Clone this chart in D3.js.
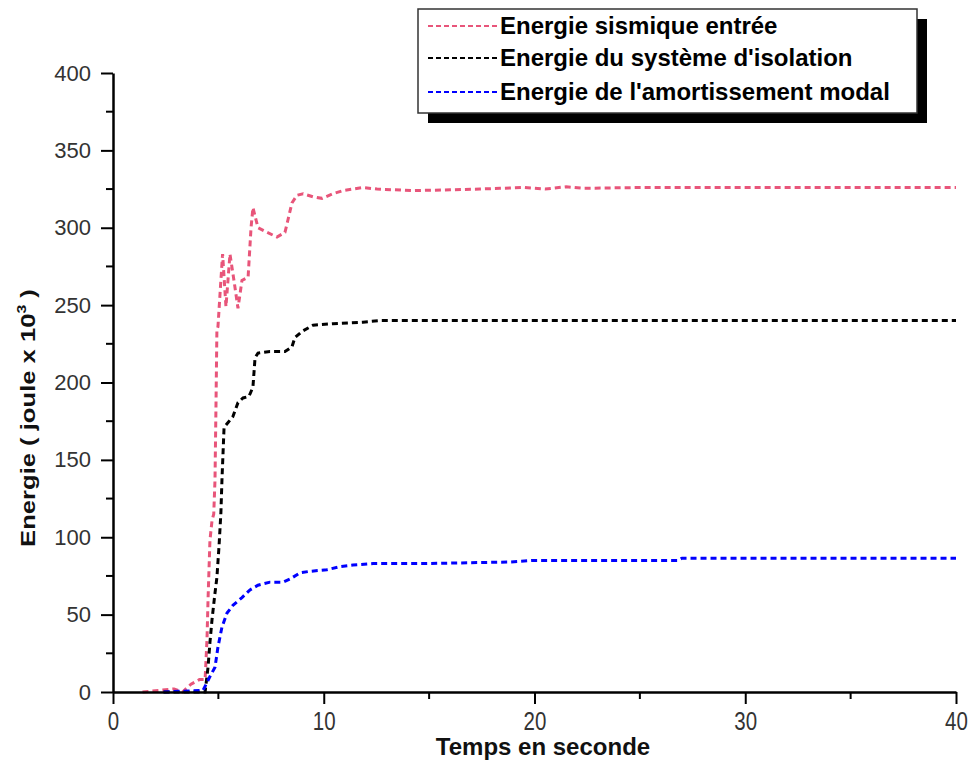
<!DOCTYPE html>
<html><head><meta charset="utf-8">
<script src="https://cdn.jsdelivr.net/npm/d3@7"></script>
<style>body{margin:0;background:#fff}svg{display:block}</style>
</head><body>
<svg id="c" width="975" height="762"></svg>
<script>
// ---- data (time in s, energy in joule x 10^3) ----
const seriesNames = ["Energie sismique entrée", "Energie du système d'isolation", "Energie de l'amortissement modal"];
const seriesColors = ["#e8557a", "#000000", "#0000ff"];
const xTicks = [0, 10, 20, 30, 40];
const yTicks = [0, 50, 100, 150, 200, 250, 300, 350, 400];

const pinkT = [1.4, 2.9, 3.3, 3.7, 4.1, 4.37, 4.46, 4.51, 4.6, 4.7, 4.78, 4.84, 4.89, 4.93, 4.98, 5.1, 5.2, 5.36, 5.55, 5.75, 5.93, 6.12, 6.41, 6.55, 6.64, 6.88, 7.31, 7.78, 8.16, 8.3, 8.49, 8.73, 9.02, 9.49, 9.92, 10.44, 10.91, 11.86, 12.53, 14.23, 16, 17.41, 18.36, 19.5, 20.5, 21.5, 22.3, 25, 30, 35, 40];
const pinkE = [0, 2, 0, 5, 8, 8, 34, 60, 98, 111, 115, 137, 189, 234, 236, 262, 283, 249, 283, 265, 248, 266, 268, 300, 313, 300, 297, 294, 297, 305, 316, 321, 322, 320, 319, 322, 324, 326, 325, 324, 324.5, 325, 325.5, 326, 325, 326.5, 325.5, 326, 326, 326, 326];

const blackT = [2.4, 4.37, 4.51, 4.6, 4.7, 4.84, 4.93, 5.03, 5.12, 5.17, 5.22, 5.27, 5.45, 5.69, 5.93, 6.17, 6.45, 6.64, 6.74, 6.88, 7.45, 8.16, 8.49, 8.63, 8.97, 9.49, 10.44, 11.86, 12.67, 15, 20, 25, 30, 35, 40];
const blackE = [0, 0, 16, 32, 47, 64, 74, 94, 116, 137, 154, 171, 174, 178, 187, 190, 191, 197, 216, 219, 220, 220, 223, 229, 233, 237, 238, 239, 240, 240, 240, 240, 240, 240, 240];

const blueT = [2.4, 4.27, 4.6, 4.84, 4.98, 5.17, 5.41, 5.69, 6.12, 6.5, 6.88, 7.45, 8.07, 8.4, 8.87, 9.35, 10.15, 10.77, 11.39, 12.34, 14.9, 18.8, 19.9, 26.8, 27.0, 40];
const blueE = [0, 1, 10, 16, 29, 42, 51, 56, 61, 66, 69, 71, 71, 73, 77, 78, 79, 81, 82, 83, 83, 84, 85, 85, 86.5, 86.5];

const series = [
  {name: seriesNames[0], color: seriesColors[0], t: pinkT, e: pinkE},
  {name: seriesNames[1], color: seriesColors[1], t: blackT, e: blackE},
  {name: seriesNames[2], color: seriesColors[2], t: blueT, e: blueE}
];

// ---- layout ----
const svg = d3.select("#c");
const L = 113, R = 956, T = 73, B = 692;
const x = d3.scaleLinear().domain([0, 40]).range([L, R]);
const y = d3.scaleLinear().domain([0, 400]).range([B, T]);
const font = "'Liberation Sans', Arial, sans-serif";

// minor ticks
const xMinor = d3.range(5, 40, 10);
const yMinor = d3.range(25, 400, 50);
svg.append("g").selectAll("line").data(xMinor).join("line")
  .attr("x1", d => x(d)).attr("x2", d => x(d)).attr("y1", B).attr("y2", B + 7)
  .attr("stroke", "#000").attr("stroke-width", 2);
svg.append("g").selectAll("line").data(yMinor).join("line")
  .attr("y1", d => y(d)).attr("y2", d => y(d)).attr("x1", L).attr("x2", L - 7)
  .attr("stroke", "#000").attr("stroke-width", 2);

// lines
const line = d3.line().x(d => x(d[0])).y(d => y(d[1]));
series.forEach(s => {
  svg.append("path")
    .datum(s.t.map((t, i) => [t, s.e[i]]))
    .attr("d", line)
    .attr("fill", "none")
    .attr("stroke", s.color)
    .attr("stroke-width", 3)
    .attr("stroke-dasharray", "6,4");
});

// axes
const xAxis = svg.append("g").attr("transform", `translate(0,${B})`)
  .call(d3.axisBottom(x).tickValues(xTicks).tickSize(12).tickSizeOuter(0).tickPadding(8));
const yAxis = svg.append("g").attr("transform", `translate(${L},0)`)
  .call(d3.axisLeft(y).tickValues(yTicks).tickSize(12).tickSizeOuter(0).tickPadding(10));
[xAxis, yAxis].forEach(a => {
  a.select(".domain").attr("stroke", "#000").attr("stroke-width", 2.5);
  a.selectAll(".tick line").attr("stroke", "#000").attr("stroke-width", 2);
  a.selectAll(".tick text").attr("fill", "#333").attr("font-family", font);
});
yAxis.selectAll(".tick text").attr("font-size", 22);
xAxis.selectAll(".tick text").attr("font-size", 25)
  .attr("transform", "scale(0.82,1)").attr("text-anchor", "middle");

// axis titles
svg.append("text").attr("x", 543).attr("y", 755).attr("text-anchor", "middle")
  .attr("font-family", font).attr("font-weight", "bold").attr("font-size", 24)
  .attr("fill", "#111").text("Temps en seconde");
const yt = svg.append("text").attr("transform", "translate(35,418) rotate(-90) scale(1.22,1)")
  .attr("text-anchor", "middle").attr("font-family", font).attr("font-weight", "bold")
  .attr("font-size", 21).attr("fill", "#111");
yt.append("tspan").text("Energie ( joule x 10");
yt.append("tspan").attr("font-size", 13).attr("dy", -9).text("3");
yt.append("tspan").attr("dy", 9).text(" )");

// legend
const lg = svg.append("g");
lg.append("rect").attr("x", 428).attr("y", 19).attr("width", 499).attr("height", 104).attr("fill", "#000");
lg.append("rect").attr("x", 418).attr("y", 9).attr("width", 499).attr("height", 104)
  .attr("fill", "#fff").attr("stroke", "#333").attr("stroke-width", 1.5);
const rowY = [26, 58, 92];
series.forEach((s, i) => {
  lg.append("line").attr("x1", 428).attr("x2", 497).attr("y1", rowY[i]).attr("y2", rowY[i])
    .attr("stroke", s.color).attr("stroke-width", 2.2).attr("stroke-dasharray", "5,3");
  lg.append("text").attr("x", 500).attr("y", rowY[i] + 8)
    .attr("font-family", font).attr("font-weight", "bold").attr("font-size", 24)
    .attr("fill", "#000").text(s.name);
});
</script>
</body></html>
